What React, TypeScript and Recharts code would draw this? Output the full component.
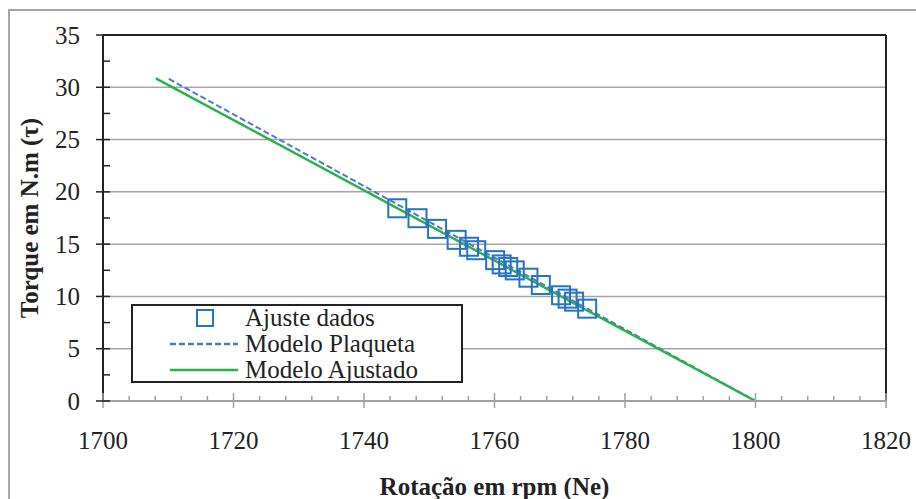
import React from 'react';
import {
  ComposedChart,
  Scatter,
  Line,
  XAxis,
  YAxis,
  CartesianGrid,
  ReferenceLine
} from 'recharts';

// Measured points (rpm, torque)
const dataRpm = [1745.1, 1748.2, 1751.2, 1754.2, 1756.1, 1757.2, 1760.1, 1761.1, 1762.1, 1763.1, 1765.2, 1767.1, 1770.2, 1771.2, 1772.2, 1774.2];
const dataTorque = [18.43, 17.48, 16.46, 15.41, 14.75, 14.42, 13.47, 13.06, 12.81, 12.49, 11.79, 11.09, 10.11, 9.79, 9.5, 8.83];

// Model lines (end points)
const plaquetaRpm = [1710.1, 1800];
const plaquetaTorque = [30.8, 0];
const ajustadoRpm = [1708.1, 1800];
const ajustadoTorque = [30.86, 0];

const xTicks = [1700, 1704, 1708, 1712, 1716, 1720, 1724, 1728, 1732, 1736, 1740, 1744, 1748, 1752, 1756, 1760, 1764, 1768, 1772, 1776, 1780, 1784, 1788, 1792, 1796, 1800, 1804, 1808, 1812, 1816, 1820];
const yTicks = [0, 2.5, 5, 7.5, 10, 12.5, 15, 17.5, 20, 22.5, 25, 27.5, 30, 32.5, 35];
const gridValues = [5, 10, 15, 20, 25, 30];

const seriesNames = ['Ajuste dados', 'Modelo Plaqueta', 'Modelo Ajustado'];

const FONT = 'Liberation Serif';
const SQUARE = '#2673bf';
const DASHED = '#4a7cc8';
const GREEN = '#2cb04a';

const zip = (xs: number[], ys: number[]) => xs.map((x, i) => ({ x, y: ys[i] }));

const pointsData = zip(dataRpm, dataTorque);
const plaquetaData = zip(plaquetaRpm, plaquetaTorque);
const ajustadoData = zip(ajustadoRpm, ajustadoTorque);

// x ticks: major every 20 rpm crosses the axis, minor ones inside only
const XTick = (props: any) => {
  const { x, y, payload } = props;
  const major = payload.value % 20 === 0;
  return (
    <g>
      <line x1={x} x2={x} y1={major ? y - 8 : y - 5} y2={major ? y + 7 : y} stroke="#a0a0a0" strokeWidth={1.5} />
      {major && (
        <text x={x} y={y + 48} textAnchor="middle" fontFamily={FONT} fontSize={25} fill="#222">
          {payload.value}
        </text>
      )}
    </g>
  );
};

const YTick = (props: any) => {
  const { x, y, payload } = props;
  const major = payload.value % 5 === 0;
  return (
    <g>
      <line x1={major ? x - 7 : x} x2={x + 7} y1={y} y2={y} stroke="#222" strokeWidth={1.5} />
      {major && (
        <text x={x - 23} y={y + 8.5} textAnchor="end" fontFamily={FONT} fontSize={25} fill="#222">
          {payload.value}
        </text>
      )}
    </g>
  );
};

const SquareShape = (props: any) => {
  const { cx, cy } = props;
  return <rect x={cx - 9} y={cy - 9} width={18} height={18} fill="none" stroke={SQUARE} strokeWidth={2} />;
};

// Legend drawn as its own box so it doesn't take room from the plot
const LegendBox = () => (
  <svg width={332} height={79} style={{ position: 'absolute', left: 131, top: 304, display: 'block' }}>
    <rect x={1} y={1} width={330} height={77} fill="#fff" stroke="#222" strokeWidth={2} />
    <rect x={66} y={6} width={16} height={16} fill="none" stroke={SQUARE} strokeWidth={2} />
    <line x1={39} x2={107} y1={40} y2={40} stroke={DASHED} strokeWidth={2.5} strokeDasharray="6 3" />
    <line x1={39} x2={107} y1={66} y2={66} stroke={GREEN} strokeWidth={2.5} />
    {seriesNames.map((name, i) => (
      <text key={name} x={114} y={22 + i * 26} fontFamily={FONT} fontSize={25} fill="#222">
        {name}
      </text>
    ))}
  </svg>
);

export default function App() {
  return (
    <div
      style={{
        position: 'absolute',
        left: 0,
        top: 0,
        width: 916,
        height: 499,
        background: '#fff',
        overflow: 'hidden',
        fontFamily: FONT
      }}
    >
      <style>{'#root svg text, #root svg tspan { font-family: "Liberation Serif", serif !important; }'}</style>
      <div
        style={{
          position: 'absolute',
          left: 8,
          top: 9,
          width: 940,
          height: 520,
          border: '2px solid #a6a6a6'
        }}
      />
      <ComposedChart
        width={916}
        height={499}
        margin={{ top: 35, right: 30, bottom: 0, left: 0 }}
        style={{ position: 'absolute', left: 0, top: 0, fontFamily: FONT }}
      >
        <CartesianGrid horizontal vertical={false} horizontalValues={gridValues} stroke="#a6a6a6" strokeWidth={1.5} />
        <XAxis
          type="number"
          dataKey="x"
          domain={[1700, 1820]}
          ticks={xTicks}
          interval={0}
          height={98}
          tickSize={0}
          tickMargin={0}
          tickLine={false}
          axisLine={{ stroke: '#a0a0a0', strokeWidth: 2 }}
          tick={<XTick />}
          allowDataOverflow
          label={{
            content: () => (
              <text x={494.5} y={495} textAnchor="middle" fontFamily={FONT} fontSize={25} fontWeight="bold" fill="#222">
                Rotação em rpm (Ne)
              </text>
            )
          }}
        />
        <YAxis
          type="number"
          dataKey="y"
          domain={[0, 35]}
          ticks={yTicks}
          interval={0}
          width={103}
          tickSize={0}
          tickMargin={0}
          tickLine={false}
          axisLine={{ stroke: '#222', strokeWidth: 2 }}
          tick={<YTick />}
          allowDataOverflow
          label={{
            content: () => (
              <text
                x={38}
                y={218}
                transform="rotate(-90, 38, 218)"
                textAnchor="middle"
                fontFamily={FONT}
                fontSize={25}
                fontWeight="bold"
                fill="#222"
              >
                Torque em N.m (τ)
              </text>
            )
          }}
        />
        <ReferenceLine y={35} stroke="#222" strokeWidth={2} />
        <ReferenceLine x={1820} stroke="#222" strokeWidth={2} />
        <Scatter
          name={seriesNames[0]}
          data={pointsData}
          fill={SQUARE}
          shape={<SquareShape />}
          isAnimationActive={false}
        />
        <Line
          name={seriesNames[1]}
          data={plaquetaData}
          dataKey="y"
          stroke={DASHED}
          strokeWidth={2}
          strokeDasharray="6 3"
          dot={false}
          activeDot={false}
          isAnimationActive={false}
        />
        <Line
          name={seriesNames[2]}
          data={ajustadoData}
          dataKey="y"
          stroke={GREEN}
          strokeWidth={2.5}
          dot={false}
          activeDot={false}
          isAnimationActive={false}
        />
      </ComposedChart>
      <LegendBox />
    </div>
  );
}
